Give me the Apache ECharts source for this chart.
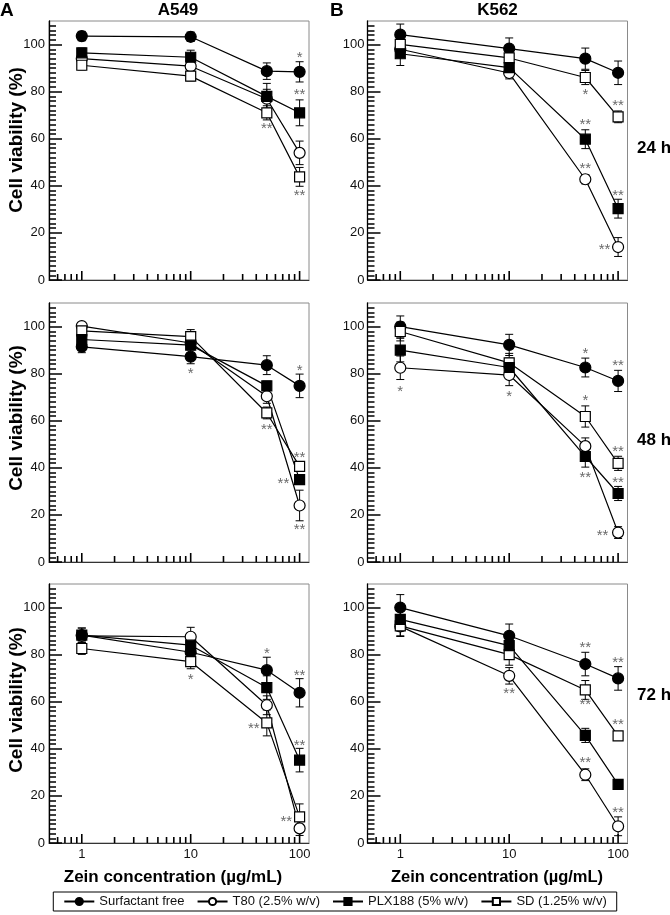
<!DOCTYPE html>
<html><head><meta charset="utf-8">
<script src="https://cdn.jsdelivr.net/npm/echarts@6/dist/echarts.min.js"></script>
<style>html,body{margin:0;padding:0;background:#fff}#c{width:670px;height:915px}</style>
</head><body><div id="c"></div>
<script>
// ---------- data ----------
const concentrations = [1, 10, 50, 100];
const seriesNames = ['Surfactant free', 'T80 (2.5% w/v)', 'PLX188 (5% w/v)', 'SD (1.25% w/v)'];
const cellLines = ['A549', 'K562'];
const timeLabels = ['24 h', '48 h', '72 h'];
const yTickValues = [0, 20, 40, 60, 80, 100];
const xLabelValues = [1, 10, 100];
const xMajorTicks = [1, 10, 100];
const xMinorTicks = [0.6, 0.7, 0.8, 0.9, 2, 3, 4, 5, 6, 7, 8, 9, 20, 30, 40, 50, 60, 70, 80, 90];

// A549, 24 h
const a549_24_sf = [103.6, 103.3, 88.7, 88.4];   const a549_24_sf_err = [2, 2, 3.5, 4.3];
const a549_24_t80 = [94, 90.8, 77, 54.0];        const a549_24_t80_err = [2, 2, 4, 5];
const a549_24_plx = [96.5, 94.6, 78.0, 71.0];    const a549_24_plx_err = [2, 3, 5.5, 5.5];
const a549_24_sd = [91.2, 86.6, 71.0, 43.8];     const a549_24_sd_err = [2, 2, 3, 4];
const a549_24_stars = [[100, 95.8, '*'], [100, 79.9, '**'], [50, 65.3, '**'], [100, 37, '**']];

// K562, 24 h
const k562_24_sf = [104.2, 98.3, 94.0, 88.0];    const k562_24_sf_err = [4.5, 4.5, 4.5, 5];
const k562_24_t80 = [98, 87.9, 42.8, 14.0];      const k562_24_t80_err = [3, 2.5, 2, 4];
const k562_24_plx = [96.1, 90.2, 59.8, 30.3];    const k562_24_plx_err = [5, 4, 4, 4];
const k562_24_sd = [100.1, 94.3, 86.0, 69.3];    const k562_24_sd_err = [3, 3, 3, 2.5];
const k562_24_stars = [[50, 79.9, '*'], [100, 75.3, '**'], [50, 67.2, '**'], [50, 48.5, '**'], [100, 37.2, '**'], [75, 14, '**']];

// A549, 48 h
const a549_48_sf = [91.4, 87.2, 83.6, 74.8];     const a549_48_sf_err = [2.5, 3, 4, 5];
const a549_48_t80 = [100.2, 93, 70.4, 24.0];     const a549_48_t80_err = [1.5, 2, 3, 6.5];
const a549_48_plx = [94.5, 92.1, 74.8, 35.0];    const a549_48_plx_err = [2, 2, 2, 2];
const a549_48_sd = [98.2, 95.7, 63.3, 40.6];     const a549_48_sd_err = [2, 3, 2.5, 2];
const a549_48_stars = [[10, 81.0, '*'], [100, 82.6, '*'], [50, 57.4, '**'], [100, 45.3, '**'], [71, 34.4, '**'], [100, 14.8, '**']];

// K562, 48 h
const k562_48_sf = [100, 92.2, 82.6, 76.9];      const k562_48_sf_err = [4.5, 4.5, 4, 4.5];
const k562_48_t80 = [82.5, 79.4, 49.2, 12.5];    const k562_48_t80_err = [5, 4.5, 3.5, 2.5];
const k562_48_plx = [90.0, 82.6, 44.8, 29.1];    const k562_48_plx_err = [5, 4, 4.5, 3];
const k562_48_sd = [97.9, 84.6, 61.8, 41.9];     const k562_48_sd_err = [4, 4, 4.5, 3];
const k562_48_stars = [[1, 73.4, '*'], [10, 71.2, '*'], [50, 89.6, '*'], [100, 84.6, '**'], [50, 69.8, '*'], [50, 36.9, '**'], [100, 48.0, '**'], [100, 34.8, '**'], [72, 12.5, '**']];

// A549, 72 h
const a549_72_sf = [88.3, 81, 73.4, 63.8];       const a549_72_sf_err = [3, 3, 5.5, 6];
const a549_72_t80 = [88, 87.6, 58.5, 6.2];       const a549_72_t80_err = [2, 4, 4, 3];
const a549_72_plx = [88.3, 84, 66.0, 35.2];      const a549_72_plx_err = [3, 3, 5, 5];
const a549_72_sd = [82.6, 77.0, 51.0, 11.1];     const a549_72_sd_err = [2.5, 3, 5.5, 5.5];
const a549_72_stars = [[10, 70.6, '*'], [50, 81.6, '*'], [38, 49.8, '**'], [100, 72.3, '**'], [100, 42.5, '**'], [75.5, 10.4, '**']];

// K562, 72 h
const k562_72_sf = [100, 88.0, 76.0, 69.9];      const k562_72_sf_err = [5.5, 5, 5, 5];
const k562_72_t80 = [92, 71.0, 29.0, 7.1];       const k562_72_t80_err = [4, 3.5, 2.5, 4];
const k562_72_plx = [95.0, 83.8, 45.7, 24.9];    const k562_72_plx_err = [5, 4, 3, 1];
const k562_72_sd = [92.2, 80.0, 65.0, 45.5];     const k562_72_sd_err = [4.5, 4.5, 4, 1.5];
const k562_72_stars = [[10, 64.7, '**'], [50, 84.2, '**'], [100, 77.9, '**'], [50, 60.0, '**'], [50, 35.1, '**'], [100, 51.3, '**'], [100, 13.9, '**']];

// ---------- assembly ----------
const panels = [
  {vals: [a549_24_sf, a549_24_t80, a549_24_plx, a549_24_sd], errs: [a549_24_sf_err, a549_24_t80_err, a549_24_plx_err, a549_24_sd_err], stars: a549_24_stars},
  {vals: [k562_24_sf, k562_24_t80, k562_24_plx, k562_24_sd], errs: [k562_24_sf_err, k562_24_t80_err, k562_24_plx_err, k562_24_sd_err], stars: k562_24_stars},
  {vals: [a549_48_sf, a549_48_t80, a549_48_plx, a549_48_sd], errs: [a549_48_sf_err, a549_48_t80_err, a549_48_plx_err, a549_48_sd_err], stars: a549_48_stars},
  {vals: [k562_48_sf, k562_48_t80, k562_48_plx, k562_48_sd], errs: [k562_48_sf_err, k562_48_t80_err, k562_48_plx_err, k562_48_sd_err], stars: k562_48_stars},
  {vals: [a549_72_sf, a549_72_t80, a549_72_plx, a549_72_sd], errs: [a549_72_sf_err, a549_72_t80_err, a549_72_plx_err, a549_72_sd_err], stars: a549_72_stars},
  {vals: [k562_72_sf, k562_72_t80, k562_72_plx, k562_72_sd], errs: [k562_72_sf_err, k562_72_t80_err, k562_72_plx_err, k562_72_sd_err], stars: k562_72_stars}
];

const FONT = "'Liberation Sans', Arial, Helvetica, sans-serif";
const gridLefts = [49, 367.5];
const gridTops = [21, 303, 584];
const GW = 260, GH = 259;
const symbols = ['circle', 'circle', 'rect', 'rect'];
const fills = ['#000', '#fff', '#000', '#fff'];
const sizes = [11, 11, 10, 10];
const drawOrder = [0, 1, 3, 2];

const grids = [], xAxes = [], yAxes = [], series = [];
panels.forEach((p, g) => {
  const col = g % 2, row = Math.floor(g / 2);
  grids.push({left: gridLefts[col], top: gridTops[row], width: GW, height: GH,
    show: true, borderColor: '#8a8a8a', borderWidth: 1, containLabel: false});
  xAxes.push({type: 'log', logBase: 10, gridIndex: g, min: 0.5, max: 122,
    axisLine: {show: true, lineStyle: {color: '#333', width: 1}},
    axisTick: {show: false}, splitLine: {show: false}, minorTick: {show: false},
    axisLabel: row === 2 ? {show: true, customValues: xLabelValues, fontSize: 13, color: '#111', fontFamily: FONT, margin: 5} : {show: false}
  });
  yAxes.push({type: 'value', gridIndex: g, min: 0, max: 110, interval: 20,
    axisLine: {show: true, lineStyle: {color: '#000', width: 1.3}},
    axisTick: {show: true, inside: true, length: 13, customValues: yTickValues, lineStyle: {color: '#000', width: 1.5}},
    minorTick: {show: true, splitNumber: 10, length: 7, lineStyle: {color: '#000', width: 1.5}},
    splitLine: {show: false},
    axisLabel: {customValues: yTickValues, fontSize: 13, color: '#111', fontFamily: FONT, margin: col === 0 ? 4 : 3}
  });
  // error bars
  drawOrder.forEach(s => {
    series.push({
      type: 'custom', xAxisIndex: g, yAxisIndex: g, z: 2, silent: true, animation: false,
      data: concentrations.map((c, i) => [c, p.vals[s][i], p.errs[s][i]]),
      renderItem: (params, api) => {
        const x = api.value(0), y = api.value(1), e = api.value(2);
        const t = api.coord([x, y + e]), b = api.coord([x, y - e]);
        const st = {stroke: '#000', lineWidth: 1};
        return {type: 'group', children: [
          {type: 'line', shape: {x1: t[0], y1: t[1], x2: b[0], y2: b[1]}, style: st},
          {type: 'line', shape: {x1: t[0] - 4, y1: t[1], x2: t[0] + 4, y2: t[1]}, style: st},
          {type: 'line', shape: {x1: b[0] - 4, y1: b[1], x2: b[0] + 4, y2: b[1]}, style: st}
        ]};
      }
    });
  });
  // lines + markers
  drawOrder.forEach(s => {
    series.push({
      type: 'line', name: seriesNames[s], xAxisIndex: g, yAxisIndex: g, z: 3, animation: false,
      data: concentrations.map((c, i) => [c, p.vals[s][i]]),
      symbol: symbols[s], symbolSize: sizes[s], showAllSymbol: true,
      itemStyle: {color: fills[s], borderColor: '#000', borderWidth: 1.2, opacity: 1},
      lineStyle: {color: '#000', width: 1.2},
      emphasis: {disabled: true}, clip: false
    });
  });
  // significance asterisks
  const stars = p.stars;
  series.push({
    type: 'custom', xAxisIndex: g, yAxisIndex: g, z: 4, silent: true, animation: false,
    data: stars.map(s => [s[0], s[1]]),
    renderItem: (params, api) => {
      const pt = api.coord([api.value(0), api.value(1)]);
      return {type: 'text', x: pt[0], y: pt[1] + 3,
        style: {text: stars[params.dataIndex][2], fill: '#6a6a6a', font: '15px ' + FONT, align: 'center', verticalAlign: 'middle'}};
    }
  });
  // x ticks (inside, upward)
  const xt = xMajorTicks.map(v => [v, 1]).concat(xMinorTicks.map(v => [v, 0]));
  series.push({
    type: 'custom', xAxisIndex: g, yAxisIndex: g, z: 5, silent: true, animation: false,
    data: xt.map(t => [t[0], 0, t[1]]),
    renderItem: (params, api) => {
      const pt = api.coord([api.value(0), 0]);
      const len = api.value(2) ? 9 : 6;
      return {type: 'line', shape: {x1: pt[0], y1: pt[1], x2: pt[0], y2: pt[1] - len},
        style: {stroke: '#000', lineWidth: 1.6}};
    }
  });
});

const graphics = [
  {type: 'text', left: 0, top: 1, style: {text: 'A', font: 'bold 19px ' + FONT, fill: '#000'}},
  {type: 'text', left: 330, top: 1, style: {text: 'B', font: 'bold 19px ' + FONT, fill: '#000'}},
  {type: 'text', x: 178, y: 10, style: {text: cellLines[0], font: 'bold 17px ' + FONT, fill: '#000', align: 'center', verticalAlign: 'middle'}},
  {type: 'text', x: 497.5, y: 10, style: {text: cellLines[1], font: 'bold 17px ' + FONT, fill: '#000', align: 'center', verticalAlign: 'middle'}}
];
const timeY = [148, 440, 695];
timeLabels.forEach((t, i) => graphics.push({type: 'text', x: 637, y: timeY[i],
  style: {text: t, font: 'bold 17px ' + FONT, fill: '#000', align: 'left', verticalAlign: 'middle'}}));
const yTitleY = [140, 418, 700];
yTitleY.forEach(y => graphics.push({type: 'text', x: 17, y: y, rotation: Math.PI / 2,
  style: {text: 'Cell viability (%)', font: 'bold 19px ' + FONT, fill: '#000', align: 'center', verticalAlign: 'middle'}}));
graphics.push({type: 'text', x: 173, y: 877, style: {text: 'Zein concentration (µg/mL)', font: 'bold 17px ' + FONT, fill: '#000', align: 'center', verticalAlign: 'middle'}});
graphics.push({type: 'text', x: 497, y: 877, style: {text: 'Zein concentration (µg/mL)', font: 'bold 16.5px ' + FONT, fill: '#000', align: 'center', verticalAlign: 'middle'}});

const chart = echarts.init(document.getElementById('c'), null, {renderer: 'canvas'});
chart.setOption({
  backgroundColor: '#fff',
  animation: false,
  grid: grids, xAxis: xAxes, yAxis: yAxes, series: series,
  legend: {data: seriesNames, left: 'center', top: 892, orient: 'horizontal',
    borderColor: '#000', borderWidth: 1, padding: [3, 10, 3, 10], itemGap: 12,
    itemWidth: 30, itemHeight: 9, textStyle: {fontSize: 13, color: '#111', fontFamily: FONT},
    selectedMode: false},
  graphic: graphics
});
</script></body></html>
